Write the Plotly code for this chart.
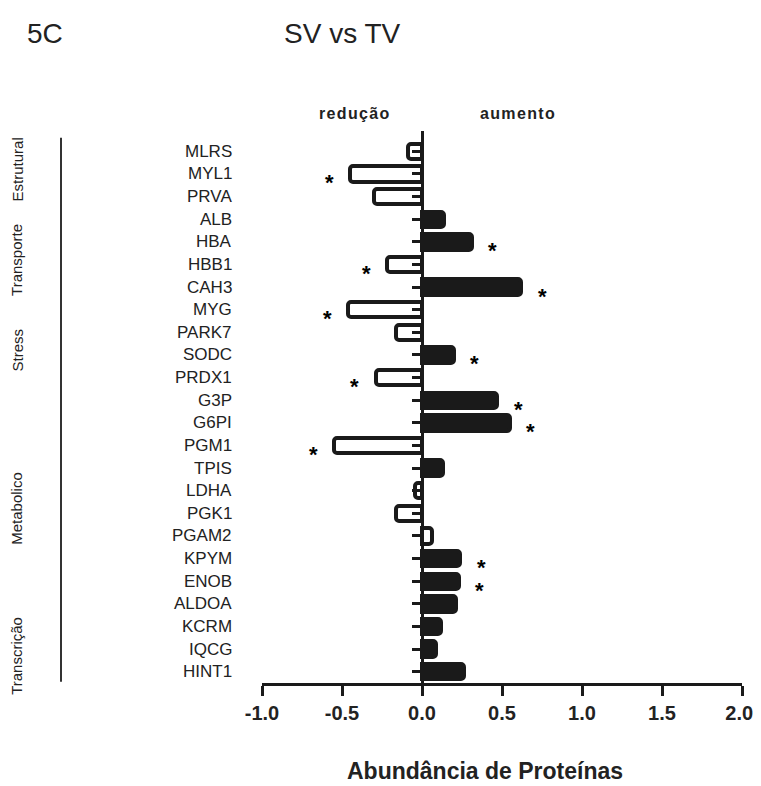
import plotly.graph_objects as go

# ---------------- data ----------------
proteins = ["MLRS", "MYL1", "PRVA", "ALB", "HBA", "HBB1", "CAH3", "MYG",
            "PARK7", "SODC", "PRDX1", "G3P", "G6PI", "PGM1", "TPIS", "LDHA",
            "PGK1", "PGAM2", "KPYM", "ENOB", "ALDOA", "KCRM", "IQCG", "HINT1"]
abundance = [-0.09, -0.45, -0.30, 0.14, 0.31, -0.22, 0.62, -0.46,
             -0.16, 0.20, -0.29, 0.47, 0.55, -0.55, 0.13, -0.045,
             -0.16, 0.06, 0.24, 0.23, 0.21, 0.12, 0.09, 0.26]
significant = ["MYL1", "HBA", "HBB1", "CAH3", "MYG", "SODC", "PRDX1",
               "G3P", "G6PI", "PGM1", "KPYM", "ENOB"]
hollow_positive = ["PGAM2"]
groups = ["Estrutural", "Transporte", "Stress", "Metabolico", "Transcrição"]
group_first = ["MLRS", "ALB", "PARK7", "G3P", "IQCG"]
group_last = ["PRVA", "MYG", "PRDX1", "KCRM", "HINT1"]
x_ticks = [-1.0, -0.5, 0.0, 0.5, 1.0, 1.5, 2.0]
x_tick_labels = ["-1.0", "-0.5", "0.0", "0.5", "1.0", "1.5", "2.0"]

# ---------------- layout constants ----------------
OFF = 8                      # default page margin of the html body
W, H = 761 - OFF, 786 - OFF
PLOT_L, PLOT_R, PLOT_T, PLOT_B = 262, 742, 131, 683   # page pixels
L = PLOT_L - OFF
R = W - (PLOT_R - OFF)
T = PLOT_T - OFF
B = H - (PLOT_B - OFF)
PW = PLOT_R - PLOT_L
PH = PLOT_B - PLOT_T
DARK = "#1a1a1a"
TXT = "#222222"
FONT = "Liberation Sans, Arial, sans-serif"
HS = "\u200a"


def px_x(p):
    return (p - PLOT_L) / PW


def px_y(p):
    return (PLOT_B - p) / PH


ypos = list(range(len(proteins)))
fills = []
for name, v in zip(proteins, abundance):
    if v < 0 or name in hollow_positive:
        fills.append("white")
    else:
        fills.append(DARK)

# keep the last tick label clear of the right page edge
tick_text = list(x_tick_labels)
tick_text[-1] = tick_text[-1] + "\u00a0"

fig = go.Figure()
fig.add_trace(go.Bar(
    x=abundance, y=ypos, orientation="h", width=0.68,
    marker=dict(color=fills, line=dict(color=DARK, width=4), cornerradius=3),
    hoverinfo="skip", showlegend=False,
))

annotations = []
# protein labels
for i, name in enumerate(proteins):
    annotations.append(dict(
        x=px_x(234), xref="paper", y=i, yref="y", text=name, showarrow=False,
        xanchor="right", yanchor="middle", font=dict(family=FONT, size=17, color=TXT)))

# significance stars
for i, (name, v) in enumerate(zip(proteins, abundance)):
    if name in significant:
        sx = v + (0.13 if v > 0 else -0.13)
        annotations.append(dict(
            x=sx, xref="x", y=i, yref="y", text="*", showarrow=False,
            xanchor="center", yanchor="middle", yshift=-9,
            font=dict(family=FONT, size=22, color="black", weight="bold")))

# group lines & labels
shapes = []
for g, a, b in zip(groups, group_first, group_last):
    i0 = proteins.index(a)
    i1 = proteins.index(b)
    shapes.append(dict(type="line", xref="paper", yref="y",
                       x0=px_x(61), x1=px_x(61), y0=i0 - 0.6, y1=i1 + 0.45,
                       line=dict(color="#333333", width=2)))
    annotations.append(dict(
        x=px_x(17), xref="paper", y=(i0 + i1) / 2 - 0.2, yref="y", text=g,
        showarrow=False, textangle=-90, xanchor="center", yanchor="middle",
        font=dict(family=FONT, size=15, color=TXT)))

# titles and side texts
annotations += [
    dict(x=px_x(25), y=px_y(33), xref="paper", yref="paper", text="5C",
         showarrow=False, xanchor="left", yanchor="middle",
         font=dict(family=FONT, size=28, color=TXT)),
    dict(x=px_x(282), y=px_y(33), xref="paper", yref="paper", text="SV vs TV",
         showarrow=False, xanchor="left", yanchor="middle",
         font=dict(family=FONT, size=28, color=TXT)),
    dict(x=px_x(354), y=px_y(114), xref="paper", yref="paper",
         text=HS.join("redução"), showarrow=False, xanchor="center", yanchor="middle",
         font=dict(family=FONT, size=16, color=TXT, weight="bold")),
    dict(x=px_x(517), y=px_y(114), xref="paper", yref="paper",
         text=HS.join("aumento"), showarrow=False, xanchor="center", yanchor="middle",
         font=dict(family=FONT, size=16, color=TXT, weight="bold")),
    dict(x=px_x(485), y=px_y(771), xref="paper", yref="paper",
         text="Abundância de Proteínas", showarrow=False,
         xanchor="center", yanchor="middle",
         font=dict(family=FONT, size=23, color=TXT, weight="bold")),
]

fig.update_layout(
    width=W, height=H,
    margin=dict(l=L, r=R, t=T, b=B, pad=0, autoexpand=False),
    paper_bgcolor="white", plot_bgcolor="white",
    bargap=0,
    xaxis=dict(range=[-1, 2], tickvals=x_ticks, ticktext=tick_text,
               showgrid=False, zeroline=False, showline=True, linewidth=3,
               linecolor=DARK, ticks="outside", ticklen=10, tickwidth=3,
               tickcolor=DARK, fixedrange=True, automargin=False,
               tickfont=dict(family=FONT, size=20, color=TXT, weight="bold")),
    yaxis=dict(range=[23.5, -0.9], tickvals=ypos, showticklabels=False,
               showgrid=False, zeroline=False, showline=True, linewidth=3,
               linecolor=DARK, ticks="outside", ticklen=9, tickwidth=3,
               tickcolor=DARK, anchor="free", position=1 / 3, fixedrange=True,
               automargin=False),
    annotations=annotations,
    shapes=shapes,
)

fig.write_html("out.html")
